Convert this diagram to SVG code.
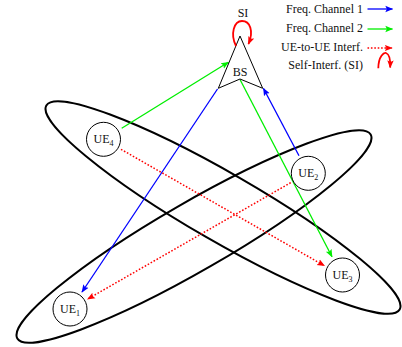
<svg xmlns="http://www.w3.org/2000/svg" width="402" height="347" viewBox="0 0 402 347">
<style>
text{font-family:"Liberation Serif","Times New Roman",serif;font-size:12px;fill:#111}
.sub{font-size:8px}
.ell{fill:none;stroke:#000;stroke-width:2}
.ue{fill:#fff;stroke:#000;stroke-width:1}
.b{stroke:#0000ff;stroke-width:1.3;fill:none}
.g{stroke:#00ee00;stroke-width:1.3;fill:none}
.r{stroke:#ff0000;stroke-width:1.5;fill:none;stroke-dasharray:1.6 1.8}
.rs{stroke:#ff0000;stroke-width:1.8;fill:none}
</style>
<defs>
<marker id="ab" viewBox="0 0 10 10" refX="9" refY="5" markerWidth="8" markerHeight="8" markerUnits="userSpaceOnUse" orient="auto"><path d="M0,1 L10,5 L0,9 L2,5 z" fill="#0000ff"/></marker>
<marker id="ag" viewBox="0 0 10 10" refX="9" refY="5" markerWidth="8" markerHeight="8" markerUnits="userSpaceOnUse" orient="auto"><path d="M0,1 L10,5 L0,9 L2,5 z" fill="#00ee00"/></marker>
<marker id="ar" viewBox="0 0 10 10" refX="9" refY="5" markerWidth="8" markerHeight="8" markerUnits="userSpaceOnUse" orient="auto"><path d="M0,1 L10,5 L0,9 L2,5 z" fill="#ff0000"/></marker>
</defs>
<g id="clusters">
<ellipse class="ell" cx="223" cy="207.5" rx="204" ry="34" transform="rotate(30 223 207.5)"/>
<ellipse class="ell" cx="194" cy="236.5" rx="204" ry="34" transform="rotate(-30 194 236.5)"/>
</g>
<g id="connectors">
<line class="g" x1="121.7" y1="128.3" x2="228.3" y2="62.3" marker-end="url(#ag)"/>
<line class="b" x1="217.5" y1="89" x2="82" y2="292" marker-end="url(#ab)"/>
<line class="g" x1="240" y1="79.5" x2="332" y2="256.7" marker-end="url(#ag)"/>
<line class="b" x1="299" y1="155.7" x2="263.5" y2="88.5" marker-end="url(#ab)"/>
<line class="r" x1="121" y1="149.3" x2="324.3" y2="265.7" marker-end="url(#ar)"/>
<line class="r" x1="290.7" y1="182.7" x2="87.7" y2="299" marker-end="url(#ar)"/>
</g>
<g id="BS">
<polygon points="240,36 262.7,88.3 240,79 218.3,88.3" fill="#fff" stroke="#000" stroke-width="1"/>
<text x="240" y="76" text-anchor="middle">BS</text>
<text x="243" y="17" text-anchor="middle">SI</text>
<path class="rs" d="M236,46 C230,34 234,21 242,21 C250,21 254,31 248.5,44" marker-end="url(#ar)"/>
</g>
<g id="UE1"><circle class="ue" cx="70" cy="309" r="17"/><text x="70" y="313" text-anchor="middle">UE<tspan class="sub" dy="2.5">1</tspan></text></g>
<g id="UE2"><circle class="ue" cx="308.3" cy="173.3" r="17"/><text x="308.3" y="177.3" text-anchor="middle">UE<tspan class="sub" dy="2.5">2</tspan></text></g>
<g id="UE3"><circle class="ue" cx="342.5" cy="275" r="17"/><text x="342.5" y="279" text-anchor="middle">UE<tspan class="sub" dy="2.5">3</tspan></text></g>
<g id="UE4"><circle class="ue" cx="103.5" cy="139.3" r="17"/><text x="103.5" y="143.3" text-anchor="middle">UE<tspan class="sub" dy="2.5">4</tspan></text></g>
<g id="legend">
<text x="363" y="12.5" text-anchor="end">Freq. Channel 1</text>
<line class="b" x1="367.5" y1="9" x2="392.5" y2="9" marker-end="url(#ab)"/>
<text x="363" y="32" text-anchor="end">Freq. Channel 2</text>
<line class="g" x1="367.5" y1="29" x2="392.5" y2="29" marker-end="url(#ag)"/>
<text x="363" y="51" text-anchor="end">UE-to-UE Interf.</text>
<line class="r" x1="367.5" y1="48" x2="392" y2="48" marker-end="url(#ar)"/>
<text x="363" y="69" text-anchor="end">Self-Interf. (SI)</text>
<path class="rs" d="M378.3,68.3 C378.5,56 384,52.5 386,53 C389,54 390.5,60 390.2,67.5" marker-end="url(#ar)"/>
</g>
</svg>
